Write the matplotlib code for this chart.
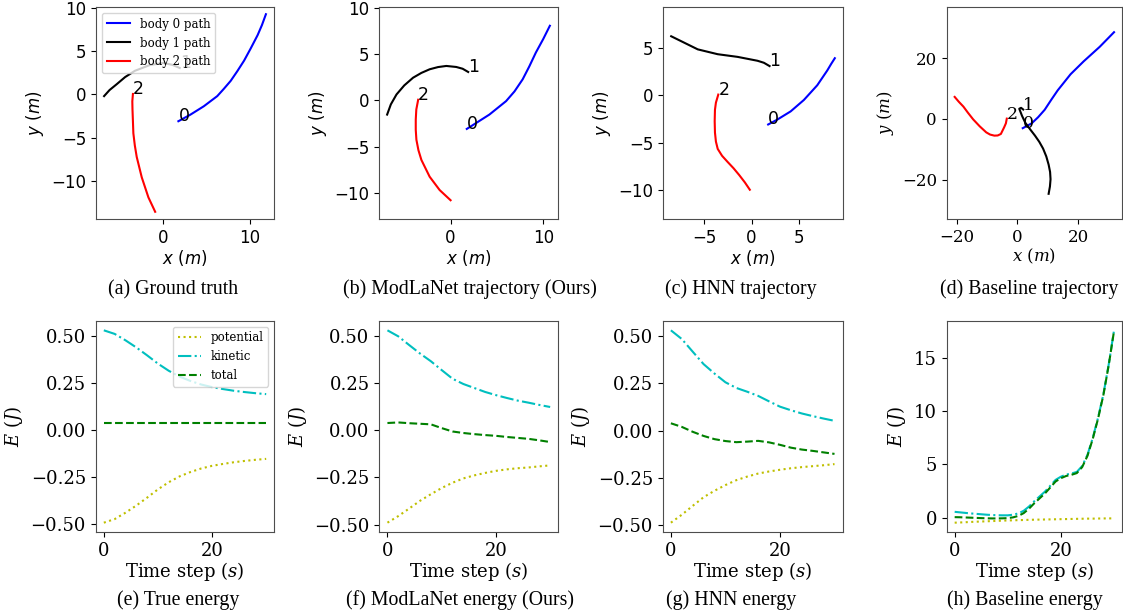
import matplotlib
matplotlib.use("Agg")
import matplotlib.pyplot as plt

plt.rcParams["font.family"] = "DejaVu Serif"
plt.rcParams["mathtext.fontset"] = "dejavuserif"
plt.rcParams["axes.edgecolor"] = "0.3"
plt.rcParams["legend.fontsize"] = 8.5

# ---- trajectories, first point is the start of each body ----
# (a) ground truth
gt_x0 = [1.75, 3.14, 4.69, 6.24, 7.0, 7.79, 8.55, 9.34, 10.1, 10.9, 11.4, 11.86]
gt_y0 = [-3.1, -2.34, -1.37, -0.2, 0.64, 1.56, 2.67, 3.9, 5.3, 6.84, 8.0, 9.26]
gt_x1 = [1.9, 1.1, 0.04, -1.51, -3.26, -4.4, -5.38, -6.2, -6.83]
gt_y1 = [3.05, 3.4, 3.63, 3.4, 2.73, 2.0, 1.17, 0.5, -0.2]
gt_x2 = [-3.5, -3.57, -3.55, -3.5, -3.45, -3.28, -3.06, -2.48, -1.71, -0.93]
gt_y2 = [0.05, -0.8, -1.76, -3.1, -4.49, -5.9, -7.23, -9.58, -11.9, -13.56]

# (b) ModLaNet
ml_x0 = [1.75, 2.76, 4.19, 5.99, 6.9, 7.78, 8.5, 9.21, 10.0, 10.72]
ml_y0 = [-3.1, -2.46, -1.55, -0.1, 0.95, 2.25, 3.65, 5.15, 6.6, 8.04]
ml_x1 = [1.9, 1.3, 0.61, -0.46, -1.35, -2.26, -3.15, -4.05, -5.0, -5.84, -6.45, -6.85]
ml_y1 = [3.05, 3.4, 3.59, 3.7, 3.58, 3.34, 2.95, 2.43, 1.6, 0.62, -0.45, -1.55]
ml_x2 = [-3.5, -3.7, -3.76, -3.76, -3.69, -3.47, -3.15, -2.26, -1.18, 0.0]
ml_y2 = [0.05, -1.0, -2.1, -3.2, -4.27, -5.4, -6.45, -8.26, -9.7, -10.8]

# (c) HNN
hn_x0 = [1.75, 2.72, 4.12, 5.51, 6.92, 7.97, 8.4, 8.77]
hn_y0 = [-3.1, -2.58, -1.72, -0.52, 1.03, 2.58, 3.3, 3.88]
hn_x1 = [1.9, 1.3, 0.63, -1.47, -3.56, -5.66, -7.06, -8.46]
hn_y1 = [3.05, 3.4, 3.61, 4.02, 4.3, 4.81, 5.5, 6.19]
hn_x2 = [-3.5, -3.75, -3.85, -3.88, -3.85, -3.75, -3.56, -3.1, -2.52, -1.9, -1.3, -0.7, -0.18]
hn_y2 = [0.05, -0.8, -1.55, -2.75, -3.95, -4.9, -5.67, -6.4, -7.04, -7.7, -8.42, -9.2, -9.97]

# (d) baseline
bl_x0 = [1.75, 4.69, 6.8, 8.98, 11.1, 13.25, 17.5, 21.8, 27.1, 31.8]
bl_y0 = [-3.1, -1.5, 0.5, 2.97, 6.2, 9.35, 14.67, 18.9, 23.7, 28.5]
bl_x1 = [1.9, 1.2, 0.6, 1.5, 2.57, 4.2, 5.78, 7.2, 8.44, 9.5, 10.27, 10.75, 10.9, 10.7, 10.27]
bl_y1 = [3.05, 3.6, 3.3, 1.0, -1.28, -3.5, -5.55, -7.6, -9.8, -12.4, -15.1, -17.5, -19.9,
         -22.3, -24.7]
bl_x2 = [-3.5, -3.8, -4.4, -5.45, -6.5, -7.6, -9.0, -10.27, -12.4, -14.57, -16.3, -17.78,
         -19.3, -20.66]
bl_y2 = [0.05, -1.5, -2.87, -5.0, -5.5, -5.55, -5.2, -4.47, -2.5, -0.2, 2.0, 4.0, 5.6, 7.2]

# ---- energies ----
t = [0, 2, 4, 6, 8, 10, 12, 14, 16, 18, 20, 22, 24, 26, 28, 30]

true_kin = [0.531, 0.512, 0.478, 0.440, 0.398, 0.354, 0.316, 0.285, 0.262, 0.243,
            0.229, 0.219, 0.210, 0.203, 0.197, 0.192]
true_pot = [-0.491, -0.472, -0.438, -0.400, -0.358, -0.314, -0.276, -0.245, -0.222,
            -0.203, -0.189, -0.179, -0.170, -0.163, -0.157, -0.152]
true_tot = [0.04] * 16

ml_kin = [0.531, 0.499, 0.453, 0.408, 0.367, 0.320, 0.274, 0.246, 0.225, 0.204,
          0.187, 0.172, 0.158, 0.147, 0.135, 0.124]
ml_pot = [-0.490, -0.455, -0.415, -0.374, -0.339, -0.306, -0.278, -0.255, -0.239,
          -0.226, -0.215, -0.207, -0.201, -0.197, -0.191, -0.186]
ml_tot = [0.039, 0.042, 0.038, 0.035, 0.032, 0.012, -0.006, -0.014, -0.020, -0.025,
          -0.029, -0.035, -0.040, -0.045, -0.053, -0.062]

hn_kin = [0.531, 0.485, 0.418, 0.352, 0.302, 0.256, 0.226, 0.206, 0.184, 0.155,
          0.127, 0.108, 0.091, 0.077, 0.064, 0.052]
hn_pot = [-0.487, -0.445, -0.398, -0.352, -0.318, -0.288, -0.262, -0.243, -0.227,
          -0.216, -0.207, -0.199, -0.193, -0.188, -0.183, -0.177]
hn_tot = [0.039, 0.020, -0.006, -0.028, -0.045, -0.055, -0.061, -0.058, -0.054,
          -0.062, -0.075, -0.090, -0.100, -0.107, -0.115, -0.123]

t_bl = list(range(31))
bl_kin = [0.55, 0.50, 0.45, 0.40, 0.36, 0.32, 0.28, 0.25, 0.23, 0.22, 0.22, 0.28,
          0.40, 0.65, 1.05, 1.55, 2.00, 2.45, 3.00, 3.55, 3.85, 4.05, 4.15, 4.30,
          4.85, 5.90, 7.50, 9.40, 11.60, 14.40, 17.60]
bl_pot = [-0.47, -0.45, -0.43, -0.40, -0.38, -0.36, -0.34, -0.32, -0.30, -0.28,
          -0.26, -0.25, -0.23, -0.22, -0.20, -0.19, -0.18, -0.17, -0.16, -0.15,
          -0.14, -0.13, -0.12, -0.11, -0.10, -0.09, -0.09, -0.08, -0.07, -0.07, -0.06]
bl_tot = [0.05, 0.04, 0.02, 0.00, -0.02, -0.04, -0.06, -0.07, -0.07, -0.06, -0.04,
          0.03, 0.17, 0.43, 0.85, 1.36, 1.82, 2.28, 2.84, 3.40, 3.71, 3.92, 4.03,
          4.19, 4.75, 5.81, 7.41, 9.32, 11.53, 14.33, 17.54]

captions_top = ["(a) Ground truth", "(b) ModLaNet trajectory (Ours)",
                "(c) HNN trajectory", "(d) Baseline trajectory"]
captions_bot = ["(e) True energy", "(f) ModLaNet energy (Ours)",
                "(g) HNN energy", "(h) Baseline energy"]

W, H = 1123, 616
fig = plt.figure(figsize=(W / 100, H / 100), dpi=100)


def px_axes(x0, x1, y0, y1):
    return fig.add_axes([x0 / W, 1 - y1 / H, (x1 - x0) / W, (y1 - y0) / H])


def set_tick_font(ax, fam, size):
    ax.tick_params(labelsize=size)
    for lab in ax.get_xticklabels() + ax.get_yticklabels():
        lab.set_fontfamily(fam)


def traj_panel(box, xs, ys, fam, mfam, legend=False):
    ax = px_axes(*box)
    names = ["body 0 path", "body 1 path", "body 2 path"]
    for i, c in enumerate(["b", "k", "r"]):
        ax.plot(xs[i], ys[i], color=c, lw=1.5, label=names[i])
        ax.text(xs[i][0], ys[i][0], str(i), fontsize=12.5, family=fam)
    ax.set_aspect("equal", adjustable="datalim")
    ax.set_xlabel("$x$ ($m$)", fontsize=12, family=fam, math_fontfamily=mfam, labelpad=1)
    ax.set_ylabel("$y$ ($m$)", fontsize=12, family=fam, math_fontfamily=mfam)
    set_tick_font(ax, fam, 12)
    if legend:
        ax.legend(loc="upper left")
    return ax


def energy_panel(box, tt, pot, kin, tot, legend=False):
    ax = px_axes(*box)
    ax.plot(tt, pot, "y:", lw=1.5, label="potential")
    ax.plot(tt, kin, "c-.", lw=1.5, label="kinetic")
    ax.plot(tt, tot, "g--", lw=1.5, label="total")
    ax.set_xlabel("Time step ($s$)", fontsize=13, labelpad=0)
    ax.set_ylabel("$E$ ($J$)", fontsize=13)
    set_tick_font(ax, "DejaVu Serif", 13)
    if legend:
        ax.legend(loc="upper right")
    return ax


top = (7, 219)
bot = (320.7, 532.3)
traj_panel((96, 274) + top, [gt_x0, gt_x1, gt_x2], [gt_y0, gt_y1, gt_y2],
           "DejaVu Sans", "dejavusans", legend=True)
traj_panel((379, 558) + top, [ml_x0, ml_x1, ml_x2], [ml_y0, ml_y1, ml_y2],
           "DejaVu Sans", "dejavusans")
traj_panel((663, 843) + top, [hn_x0, hn_x1, hn_x2], [hn_y0, hn_y1, hn_y2],
           "DejaVu Sans", "dejavusans")
traj_panel((946.7, 1122) + top, [bl_x0, bl_x1, bl_x2], [bl_y0, bl_y1, bl_y2],
           "DejaVu Serif", "dejavuserif")

energy_panel((95.7, 274.3) + bot, t, true_pot, true_kin, true_tot, legend=True)
energy_panel((379.3, 558.3) + bot, t, ml_pot, ml_kin, ml_tot)
energy_panel((662.7, 842.7) + bot, t, hn_pot, hn_kin, hn_tot)
energy_panel((946.7, 1122) + bot, t_bl, bl_pot, bl_kin, bl_tot)

# captions below each panel
cap_x_top = [173, 470, 741, 1029]
cap_x_bot = [178, 460.5, 731.3, 1025.3]
for cx, s in zip(cap_x_top, captions_top):
    fig.text(cx / W, 1 - 294.3 / H, s, ha="center", va="baseline",
             family="Liberation Serif", fontsize=14.3)
for cx, s in zip(cap_x_bot, captions_bot):
    fig.text(cx / W, 1 - 604.7 / H, s, ha="center", va="baseline",
             family="Liberation Serif", fontsize=14.3)

fig.savefig("out.png", dpi=100)
